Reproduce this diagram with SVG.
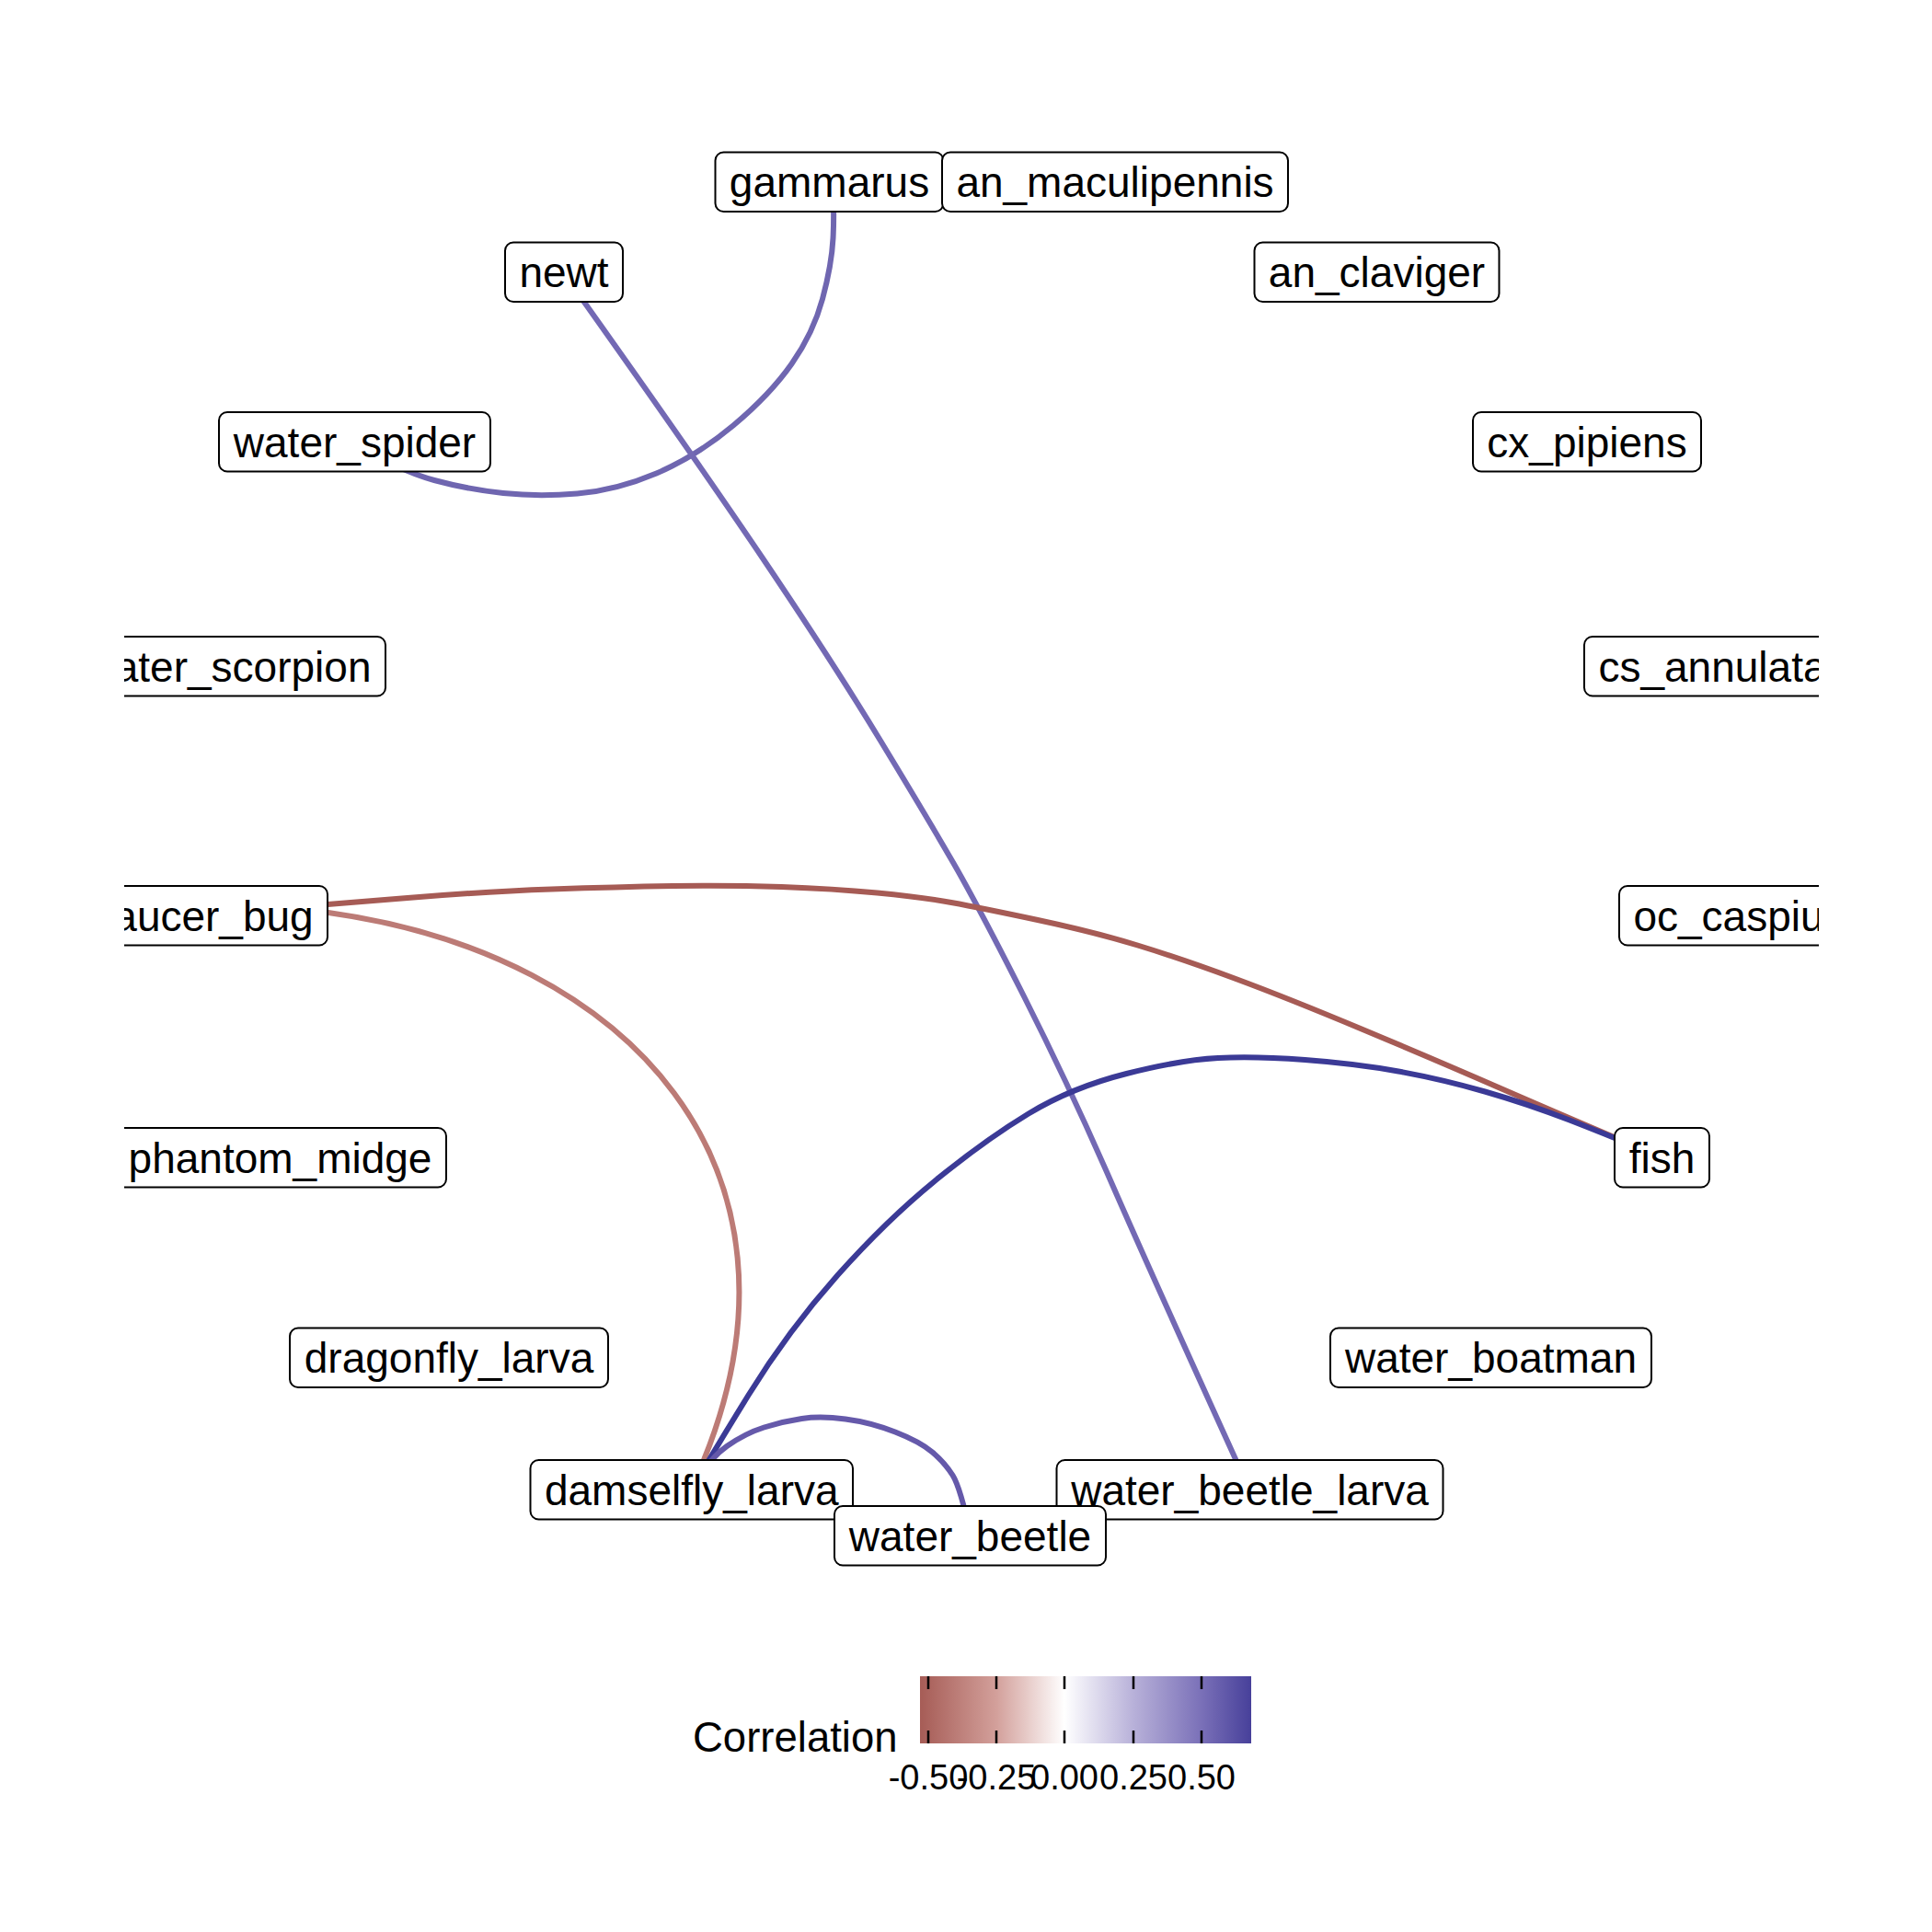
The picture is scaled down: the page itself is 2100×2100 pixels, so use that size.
<svg xmlns="http://www.w3.org/2000/svg" width="2100" height="2100" viewBox="0 0 2100 2100">
<style>
.box{fill:#fff;stroke:#000;stroke-width:2}
.lab{font-family:"Liberation Sans",Arial,sans-serif;font-size:46px;fill:#000;text-anchor:middle}
.edge{fill:none;stroke-width:6;stroke-linecap:butt;stroke-linejoin:round}
.ttl{font-family:"Liberation Sans",Arial,sans-serif;font-size:45.5px;fill:#000}
.tkl{font-family:"Liberation Sans",Arial,sans-serif;font-size:38px;fill:#000;text-anchor:middle}
.tick{stroke:#000;stroke-width:2.5}
</style>
<defs>
<clipPath id="panel"><rect x="135" y="0" width="1842" height="2100"/></clipPath>
<linearGradient id="grad" x1="1000" y1="0" x2="1360" y2="0" gradientUnits="userSpaceOnUse">
<stop offset="0" stop-color="#A65C56"/>
<stop offset="0.231" stop-color="#D3A09B"/>
<stop offset="0.436" stop-color="#FFFFFF"/>
<stop offset="0.644" stop-color="#B8B1D9"/>
<stop offset="0.85" stop-color="#7A70B8"/>
<stop offset="1" stop-color="#47409A"/>
</linearGradient>
</defs>
<rect width="2100" height="2100" fill="#fff"/>
<g clip-path="url(#panel)">
<g id="edges">
<path class="edge" stroke="#6F66B0" stroke-width="5.5" d="M905,198 Q907,230 905.5,259 Q904,288 894,325 Q884,362 860.5,395.5 Q837,429 797,462.5 Q757,496 713.5,514.5 Q670,533 627.5,536.5 Q585,540 547,536 Q509,532 472,522 Q435,512 385,482"/>
<path class="edge" stroke="#7369B4" stroke-width="5" d="M612,296 Q753,494 829.5,607.5 Q906,721 957,805 Q1008,889 1036,937.5 Q1064,986 1113,1083 Q1162,1180 1207,1283 Q1252,1386 1358,1619"/>
<path class="edge" stroke="#A65B55" d="M220,994 Q357,983 443,976 Q529,969 599.5,966.5 Q670,964 731.5,963 Q793,962 849.5,964 Q906,966 953.5,970.5 Q1001,975 1034,981 Q1067,987 1128,1000 Q1189,1013 1236.5,1027.5 Q1284,1042 1342,1063.5 Q1400,1085 1480,1118.5 Q1560,1152 1630,1182.5 Q1700,1213 1806,1258"/>
<path class="edge" stroke="#BC7B76" d="M300,985 L357,992 C687,1038 893,1271 765,1587 L752,1619"/>
<path class="edge" stroke="#3B3A96" d="M752,1619 Q770,1587 813.5,1516.5 Q857,1446 910.5,1386 Q964,1326 1017.5,1282.5 Q1071,1239 1118,1210.5 Q1165,1182 1224.5,1167 Q1284,1152 1324,1150 Q1364,1148 1418.5,1152 Q1473,1156 1520,1164.5 Q1567,1173 1614,1186.5 Q1661,1200 1706,1217.5 Q1751,1235 1806,1258"/>
<path class="edge" stroke="#6559AA" stroke-width="5.5" d="M752,1619 Q770,1586 790,1572 Q810,1558 830.5,1551.5 Q851,1545 871.5,1542 Q892,1539 919,1542.5 Q946,1546 973,1556.5 Q1000,1567 1013.5,1578.5 Q1027,1590 1035.5,1603.5 Q1044,1617 1055,1669"/>
</g>
<g id="n-gammarus"><rect class="box" x="777.5" y="165.5" width="248" height="64.5" rx="9"/><text class="lab" x="901.5" y="214">gammarus</text></g>
<g id="n-an_maculipennis"><rect class="box" x="1024" y="165.5" width="376" height="64.5" rx="9"/><text class="lab" x="1212" y="214">an_maculipennis</text></g>
<g id="n-an_claviger"><rect class="box" x="1363.5" y="263.5" width="266" height="64.5" rx="9"/><text class="lab" x="1496.5" y="312">an_claviger</text></g>
<g id="n-cx_pipiens"><rect class="box" x="1601" y="448" width="248" height="64.5" rx="9"/><text class="lab" x="1725" y="496.5">cx_pipiens</text></g>
<g id="n-cs_annulata"><rect class="box" x="1722" y="692" width="279" height="64.5" rx="9"/><text class="lab" x="1861.5" y="740.5">cs_annulata</text></g>
<g id="n-oc_caspius"><rect class="box" x="1760" y="963" width="261" height="64.5" rx="9"/><text class="lab" x="1890.5" y="1011.5">oc_caspius</text></g>
<g id="n-fish"><rect class="box" x="1755" y="1226" width="103" height="64.5" rx="9"/><text class="lab" x="1806.5" y="1274.5">fish</text></g>
<g id="n-water_boatman"><rect class="box" x="1446" y="1443.5" width="349" height="64.5" rx="9"/><text class="lab" x="1620.5" y="1492">water_boatman</text></g>
<g id="n-dragonfly_larva"><rect class="box" x="315" y="1443.5" width="346" height="64.5" rx="9"/><text class="lab" x="488" y="1492">dragonfly_larva</text></g>
<g id="n-phantom_midge"><rect class="box" x="124" y="1226" width="361" height="64.5" rx="9"/><text class="lab" x="304.5" y="1274.5">phantom_midge</text></g>
<g id="n-saucer_bug"><rect class="box" x="85" y="963" width="271" height="64.5" rx="9"/><text class="lab" x="220.5" y="1011.5">saucer_bug</text></g>
<g id="n-water_scorpion"><rect class="box" x="76" y="692" width="343" height="64.5" rx="9"/><text class="lab" x="247.5" y="740.5">water_scorpion</text></g>
<g id="n-water_spider"><rect class="box" x="238" y="448" width="295" height="64.5" rx="9"/><text class="lab" x="385.5" y="496.5">water_spider</text></g>
<g id="n-newt"><rect class="box" x="549" y="263.5" width="128" height="64.5" rx="9"/><text class="lab" x="613" y="312">newt</text></g>
<g id="n-damselfly_larva"><rect class="box" x="576.5" y="1587" width="350.5" height="64.5" rx="9"/><text class="lab" x="751.75" y="1635.5">damselfly_larva</text></g>
<g id="n-water_beetle_larva"><rect class="box" x="1148.5" y="1587" width="420" height="64.5" rx="9"/><text class="lab" x="1358.5" y="1635.5">water_beetle_larva</text></g>
<g id="n-water_beetle"><rect class="box" x="907" y="1637" width="295" height="64.5" rx="9"/><text class="lab" x="1054.5" y="1685.5">water_beetle</text></g>
</g>
<g id="legend">
<text class="ttl" x="753" y="1904">Correlation</text>
<rect x="1000" y="1822" width="360" height="73" fill="url(#grad)"/>
<g class="tick">
<line x1="1009" y1="1822" x2="1009" y2="1836"/><line x1="1009" y1="1881" x2="1009" y2="1895"/>
<line x1="1083" y1="1822" x2="1083" y2="1836"/><line x1="1083" y1="1881" x2="1083" y2="1895"/>
<line x1="1157" y1="1822" x2="1157" y2="1836"/><line x1="1157" y1="1881" x2="1157" y2="1895"/>
<line x1="1232" y1="1822" x2="1232" y2="1836"/><line x1="1232" y1="1881" x2="1232" y2="1895"/>
<line x1="1306" y1="1822" x2="1306" y2="1836"/><line x1="1306" y1="1881" x2="1306" y2="1895"/>
</g>
<text class="tkl" x="1009" y="1945">-0.50</text>
<text class="tkl" x="1083" y="1945">-0.25</text>
<text class="tkl" x="1157" y="1945">0.00</text>
<text class="tkl" x="1232" y="1945">0.25</text>
<text class="tkl" x="1306" y="1945">0.50</text>
</g>
</svg>
